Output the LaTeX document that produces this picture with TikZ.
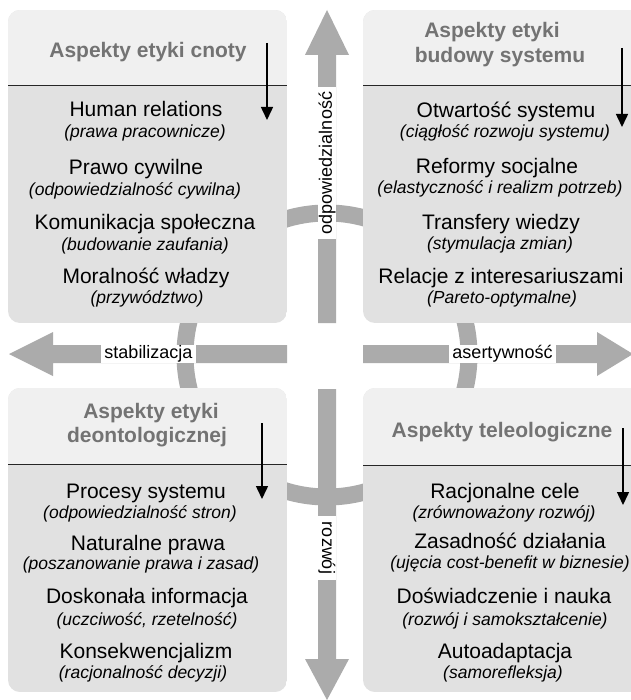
\documentclass[tikz,border=0pt]{standalone}
\usepackage{fontspec}
\setmainfont{Liberation Sans}
\usetikzlibrary{arrows.meta}

\definecolor{bargray}{HTML}{ABABAB}
\definecolor{headfill}{HTML}{F0F0F0}
\definecolor{bodyfill}{HTML}{E1E1E1}
\definecolor{titlegray}{HTML}{737373}

\tikzset{
  main/.style={anchor=base, inner sep=0pt, font=\fontsize{21bp}{24bp}\selectfont},
  sub/.style={anchor=base, inner sep=0pt, font=\fontsize{17.5bp}{20bp}\selectfont\itshape},
  ttl/.style={anchor=base, inner sep=0pt, text=titlegray, font=\fontsize{21bp}{24bp}\selectfont\bfseries},
  axlabel/.style={fill=white, inner ysep=0pt, minimum height=18bp, font=\fontsize{18bp}{20bp}\selectfont},
  bar/.style={fill=bargray, draw=none},
  ring/.style={draw=bargray, line width=17bp},
  sepline/.style={draw=black!85, line width=0.9bp},
  flow/.style={line width=1.5bp, -{Triangle[width=12bp,length=13bp]}},
}

% rounded panel: light header above the rule, darker body below it
\newcommand\drawpanel[5]{%
  \begin{scope}
    \clip[rounded corners=12bp] (#1,#2) rectangle (#3,#4);
    \fill[bodyfill] (#1,#2) rectangle (#3,#4);
    \fill[headfill] (#1,#2) rectangle (#3,#5);
  \end{scope}
  \draw[sepline] (#1,#5) -- (#3,#5);
}

\begin{document}
\begin{tikzpicture}[x=1bp,y=-1bp]
  \clip (0,0) rectangle (631,700);
  \fill[white] (0,0) rectangle (631,700);

  % ring behind the panels
  \draw[ring] (327,355) circle[radius=142bp];

  % four panels
  \drawpanel{8}{10}{287}{323}{85}
  \drawpanel{363}{10}{645}{323}{85}
  \drawpanel{8}{388}{287}{692}{464}
  \drawpanel{363}{388}{645}{692}{465}

  % axis arrows
  \fill[bar] (318,323) -- (318,55) -- (305,55) -- (327,10) -- (349,55) -- (336,55) -- (336,323) -- cycle;
  \fill[bar] (318,389) -- (318,659) -- (305,659) -- (327,700) -- (349,659) -- (336,659) -- (336,389) -- cycle;
  \fill[bar] (287,345) -- (53,345) -- (53,332) -- (9,354) -- (53,376) -- (53,363) -- (287,363) -- cycle;
  \fill[bar] (363,345) -- (597,345) -- (597,332) -- (633,354) -- (597,376) -- (597,363) -- (363,363) -- cycle;

  % axis labels
  \node[axlabel, rotate=90, inner xsep=5bp] (up) at (327,163) {odpowiedzialność};
  \node[axlabel, rotate=-90, inner xsep=6bp] (down) at (327,548) {rozwój};
  \node[axlabel, inner xsep=3bp] (left) at (148.5,354) {stabilizacja};
  \node[axlabel, inner xsep=3.5bp] (right) at (502.5,354) {asertywność};

  % top left panel
  \node[ttl] (tl0) at (148,58) {Aspekty etyki cnoty};
  \node[main] (tl1) at (146,117) {Human relations};
  \node[sub]  (tl1s) at (145,138) {(prawa pracownicze)};
  \node[main] (tl2) at (136,174) {Prawo cywilne};
  \node[sub]  (tl2s) at (135,195) {(odpowiedzialność cywilna)};
  \node[main] (tl3) at (145,229) {Komunikacja społeczna};
  \node[sub]  (tl3s) at (145,250) {(budowanie zaufania)};
  \node[main] (tl4) at (146,283) {Moralność władzy};
  \node[sub]  (tl4s) at (147,303) {(przywództwo)};

  % top right panel
  \node[ttl] (tr0a) at (492,38) {Aspekty etyki};
  \node[ttl] (tr0b) at (500,63) {budowy systemu};
  \node[main] (tr1) at (506,118) {Otwartość systemu};
  \node[sub]  (tr1s) at (505,138) {(ciągłość rozwoju systemu)};
  \node[main] (tr2) at (497,173) {Reformy socjalne};
  \node[sub]  (tr2s) at (500,193) {(elastyczność i realizm potrzeb)};
  \node[main] (tr3) at (501,229) {Transfery wiedzy};
  \node[sub]  (tr3s) at (500,249) {(stymulacja zmian)};
  \node[main] (tr4) at (501,283) {Relacje z interesariuszami};
  \node[sub]  (tr4s) at (502,303) {(Pareto-optymalne)};

  % bottom left panel
  \node[ttl] (bl0a) at (151,418) {Aspekty etyki};
  \node[ttl] (bl0b) at (147,442) {deontologicznej};
  \node[main] (bl1) at (146,498) {Procesy systemu};
  \node[sub]  (bl1s) at (140,518) {(odpowiedzialność stron)};
  \node[main] (bl2) at (148,550) {Naturalne prawa};
  \node[sub]  (bl2s) at (141,569) {(poszanowanie prawa i zasad)};
  \node[main] (bl3) at (147,603) {Doskonała informacja};
  \node[sub]  (bl3s) at (147,625) {(uczciwość, rzetelność)};
  \node[main] (bl4) at (146,658) {Konsekwencjalizm};
  \node[sub]  (bl4s) at (143,678) {(racjonalność decyzji)};

  % bottom right panel
  \node[ttl] (br0) at (502,437) {Aspekty teleologiczne};
  \node[main] (br1) at (505,498) {Racjonalne cele};
  \node[sub]  (br1s) at (504,518) {(zrównoważony rozwój)};
  \node[main] (br2) at (510,548) {Zasadność działania};
  \node[sub]  (br2s) at (510,568) {(ujęcia cost-benefit w biznesie)};
  \node[main] (br3) at (504,603) {Doświadczenie i nauka};
  \node[sub]  (br3s) at (505,625) {(rozwój i samokształcenie)};
  \node[main] (br4) at (505,658) {Autoadaptacja};
  \node[sub]  (br4s) at (503,678) {(samorefleksja)};

  % reading-direction arrows inside the panels
  \coordinate (tlA) at (267,43);  \coordinate (tlB) at (267,120);
  \coordinate (trA) at (622,48);  \coordinate (trB) at (622,127);
  \coordinate (blA) at (262,423); \coordinate (blB) at (262,499);
  \coordinate (brA) at (623,428); \coordinate (brB) at (623,505);
  \draw[flow] (tlA) -- (tlB);
  \draw[flow] (trA) -- (trB);
  \draw[flow] (blA) -- (blB);
  \draw[flow] (brA) -- (brB);
\end{tikzpicture}
\end{document}
